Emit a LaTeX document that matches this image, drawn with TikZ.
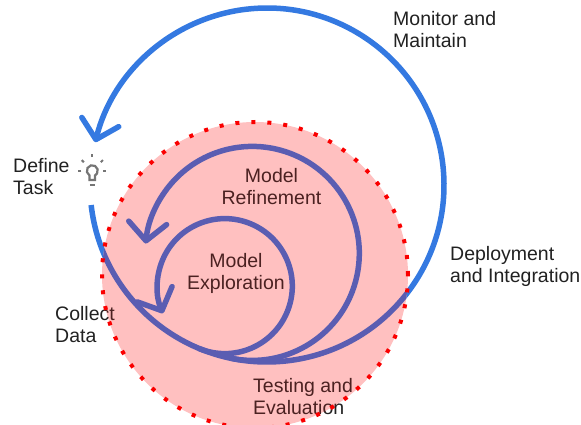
\documentclass[tikz,border=0pt]{standalone}
\usepackage{fontspec}
\setmainfont{Liberation Sans}
\usetikzlibrary{arrows.meta}
\definecolor{flowblue}{RGB}{52,121,225}
\definecolor{flowpurple}{RGB}{90,93,178}
\definecolor{pinkfill}{RGB}{255,192,192}
\definecolor{dotred}{RGB}{250,0,0}
\definecolor{txtgray}{RGB}{33,33,33}
\definecolor{txtmaroon}{RGB}{75,33,33}
\definecolor{bulbgray}{RGB}{117,117,117}
\begin{document}
\begin{tikzpicture}[x=1pt,y=1pt,
  flowline/.style={line width=5.5pt},
  barb/.style={-{Straight Barb[length=18pt,width=38pt,round]}},
  lbl/.style={font=\fontsize{19.5}{22}\selectfont, text=txtgray, inner sep=0pt, align=left, anchor=base west},
  inlbl/.style={font=\fontsize{19.5}{22}\selectfont, text=txtmaroon, inner sep=0pt, align=center, anchor=base},
  bulbline/.style={draw=bulbgray, line width=2pt},
  reddots/.style={draw=dotred, line width=4pt, dash pattern=on 4pt off 12pt}]
\useasboundingbox (0,0) rectangle (581,424);
\coordinate (O) at (267,239);
\coordinate (Rc) at (252.3,170.6);
\coordinate (Ec) at (224.8,137.9);
\coordinate (B) at (92.3,253.3);
% outer cycle
\draw[flowline, flowblue, barb] ([shift={(O)}]186.5:177) arc[start angle=186.5, end angle=526, radius=177];
% labels outside
\node[lbl] (mon) at (393,376) {Monitor and\\Maintain};
\node[lbl] (dep) at (450,142) {Deployment\\and Integration};
\node[lbl] (def) at (13,230) {Define\\Task};
\node[lbl] (col) at (55,82) {Collect\\Data};
\node[lbl] (tst) at (253,10) {Testing and\\Evaluation};
% bulb
\draw[bulbline, line width=2.2pt] ([shift={(B)}]240:5.5) arc[start angle=240, end angle=-60, radius=5.5] -- (95.05,244) -- (89.55,244) -- cycle;
\draw[bulbline, line width=2.4pt] (89.8,239.3) -- (94.8,239.3);
\foreach \a/\ri/\ro in {90/13.5/16.5, 135/12/15, 45/12/15, 180/11/14, 0/11/14}
  \draw[bulbline] ([shift={(B)}]\a:\ri) -- ([shift={(B)}]\a:\ro);
% pink circle
\node[circle, fill=pinkfill, minimum size=306pt, inner sep=0pt] (pink) at (255,149) {};
\begin{scope}
  \clip (pink.center) circle[radius=153];
  \draw[flowline, flowpurple] ([shift={(O)}]186.5:177) arc[start angle=186.5, end angle=526, radius=177];
  \node[lbl, text=txtmaroon] at (253,10) {Testing and\\Evaluation};
  \node[lbl, text=txtmaroon] at (55,82) {Collect\\Data};
\end{scope}
% inner loops
\draw[flowline, flowpurple, barb] ([shift={(Rc)}]257.8:107) arc[start angle=257.8, end angle=534.7, radius=107];
\draw[flowline, flowpurple, barb] ([shift={(Ec)}]247.4:67.5) arc[start angle=247.4, end angle=563.7, radius=67.5];
\node[inlbl] (ref) at (271.5,220) {Model\\Refinement};
\node[inlbl] (exp) at (236,135) {Model\\Exploration};
% dotted border
\draw[reddots] (pink.center) circle[radius=153];
\end{tikzpicture}
\end{document}
